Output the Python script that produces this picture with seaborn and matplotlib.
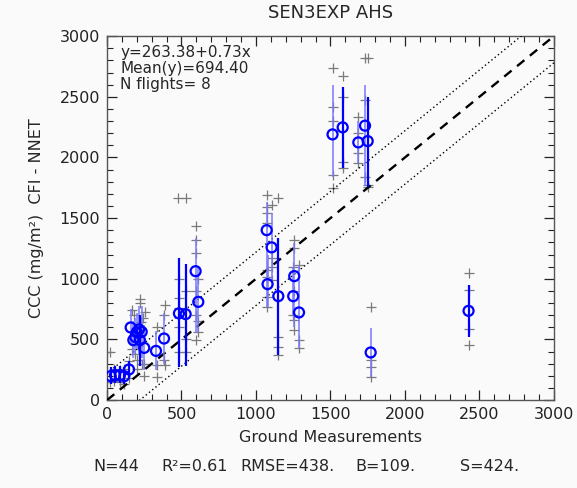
import numpy as np
import pandas as pd
import matplotlib
matplotlib.use("Agg")
import matplotlib.pyplot as plt
import seaborn as sns
from matplotlib.ticker import MultipleLocator

# ---- data ----
mean_x = [25, 54, 87, 116, 148, 159, 177, 215, 221, 233, 250, 200, 190,
          329, 383, 483, 528, 595, 613,
          1072, 1078, 1105, 1150, 1257, 1250, 1289,
          1514, 1582, 1687, 1732, 1750, 1770, 2427]
mean_y = [198, 206, 206, 198, 253, 599, 495, 583, 495, 563, 431, 560, 520,
          406, 508, 715, 709, 1063, 810,
          1401, 956, 1259, 857, 1022, 857, 723,
          2190, 2248, 2124, 2262, 2135, 393, 736]
err_lo = [130, 140, 140, 130, 190, 450, 350, 380, 280, 350, 250, 420, 380,
          250, 300, 275, 280, 550, 560,
          769, 769, 989, 371, 604, 700, 426,
          1841, 1910, 1954, 1772, 1753, 192, 522]
err_hi = [270, 280, 280, 270, 320, 750, 650, 780, 700, 780, 620, 720, 680,
          570, 720, 1168, 1121, 1333, 1100,
          1635, 1200, 1539, 1333, 1292, 1100, 1113,
          2600, 2580, 2300, 2600, 2500, 591, 948]
bright = [0, 1, 2, 3, 4, 8, 15, 16, 22, 27, 30, 32]

samp_x = [20, 20, 50, 50, 85, 85, 115, 115, 150, 150,
          165, 165, 180, 190, 221, 220, 230, 235, 255, 250, 250, 200, 210, 240, 199,
          333, 333, 333, 389, 389, 383, 383,
          483, 483, 483, 483, 483, 480, 528, 528, 528, 528,
          595, 595, 595, 595, 595, 595, 613, 613, 613,
          1072, 1072, 1072, 1072, 1072, 1072, 1072, 1072,
          1105, 1105, 1105, 1105, 1150, 1150, 1150, 1150,
          1257, 1257, 1257, 1257, 1257, 1250, 1250, 1289, 1289, 1289,
          1519, 1519, 1519, 1519, 1519, 1581, 1581, 1581, 1581,
          1687, 1687, 1687, 1687, 1735, 1735, 1735, 1750, 1750, 1750,
          1770, 1770, 1770, 1770, 2427, 2427, 2427, 2427]
samp_y = [398, 150, 260, 160, 250, 150, 260, 130, 320, 180,
          742, 420, 700, 380, 797, 830, 640, 300, 728, 200, 300, 260, 450, 680, 330,
          604, 290, 192, 783, 289, 700, 330,
          838, 756, 1000, 600, 400, 1667, 1667, 900, 500, 400,
          1434, 1319, 1209, 900, 700, 495, 1000, 650, 560,
          1690, 1594, 1539, 1457, 1072, 1017, 852, 769,
          1608, 1171, 1100, 990, 1663, 522, 440, 371,
          1319, 1251, 660, 577, 900, 1100, 700, 1113, 495, 426,
          2734, 2418, 1855, 1745, 2300, 2671, 2500, 1965, 1910,
          2336, 2198, 2034, 1954, 2817, 2473, 1841, 2817, 1772, 1753,
          764, 330, 275, 192, 1044, 907, 583, 453]

ref_x = [0, 3000]
band = 220

title = "SEN3EXP AHS"
fit_lines = ["y=263.38+0.73x", "Mean(y)=694.40", "N flights= 8"]
stats_line = ["N=44", "R²=0.61", "RMSE=438.", "B=109.", "S=424."]
xlabel = "Ground Measurements"
ylabel = "CCC (mg/m²)  CFI - NNET"
ticks = [0, 500, 1000, 1500, 2000, 2500, 3000]

# ---- plot ----
sns.set_theme(style="white")
plt.rcParams['font.family'] = ['DejaVu Sans']

fig = plt.figure(figsize=(5.77, 4.88), dpi=100, facecolor="#fafafa")
ax = fig.add_axes([0.1854, 0.180, 0.7746, 0.746])
ax.set_facecolor("#fafafa")

samples = pd.DataFrame({"x": samp_x, "y": samp_y})
means = pd.DataFrame({"x": mean_x, "y": mean_y, "lo": err_lo, "hi": err_hi})

sns.scatterplot(data=samples, x="x", y="y", marker="+", s=50, color="#7a7a7a",
                linewidth=0.9, ax=ax, zorder=2)

rx = np.array(ref_x, dtype=float)
sns.lineplot(x=rx, y=rx, ax=ax, color="black", lw=1.7, linestyle=(0, (4, 3)), zorder=3)
sns.lineplot(x=rx, y=rx + band, ax=ax, color="black", lw=1.0, linestyle=(0, (1, 2)), zorder=3)
sns.lineplot(x=rx, y=rx - band, ax=ax, color="black", lw=1.0, linestyle=(0, (1, 2)), zorder=3)

is_bright = np.isin(np.arange(len(means)), bright)
ax.vlines(means.x[~is_bright], means.lo[~is_bright], means.hi[~is_bright],
          color="#7878ff", lw=1.1, zorder=4)
ax.vlines(means.x[is_bright], means.lo[is_bright], means.hi[is_bright],
          color="#0000ff", lw=1.6, zorder=4)

sns.scatterplot(data=means, x="x", y="y", marker="o", s=52, facecolor="none",
                edgecolor="#0000ff", linewidth=1.6, ax=ax, zorder=5)

ax.set_xlim(0, 3000)
ax.set_ylim(0, 3000)
ax.set_xticks(ticks)
ax.set_yticks(ticks)
ax.xaxis.set_minor_locator(MultipleLocator(100))
ax.yaxis.set_minor_locator(MultipleLocator(100))
ax.tick_params(which="both", direction="in", top=True, right=True, bottom=True, left=True,
               colors="#222222", labelsize=11.5)
ax.tick_params(which="major", length=7, width=0.9, pad=5)
ax.tick_params(which="minor", length=4, width=0.8)
for sp in ax.spines.values():
    sp.set_color("#555555")
    sp.set_linewidth(1.0)

ax.set_xlabel(xlabel, fontsize=11.5, labelpad=6)
ax.set_ylabel(ylabel, fontsize=11.5, labelpad=11)
ax.set_title(title, fontsize=13, pad=13)

ax.text(0.03, 0.975, "\n".join(fit_lines), transform=ax.transAxes, va="top", ha="left",
        fontsize=11, linespacing=1.08)

xs = [0.201, 0.337, 0.499, 0.668, 0.848]
for xp, s in zip(xs, stats_line):
    fig.text(xp, 0.045, s, ha="center", va="center", fontsize=11.5)

fig.savefig("out.png", dpi=100, facecolor=fig.get_facecolor())
